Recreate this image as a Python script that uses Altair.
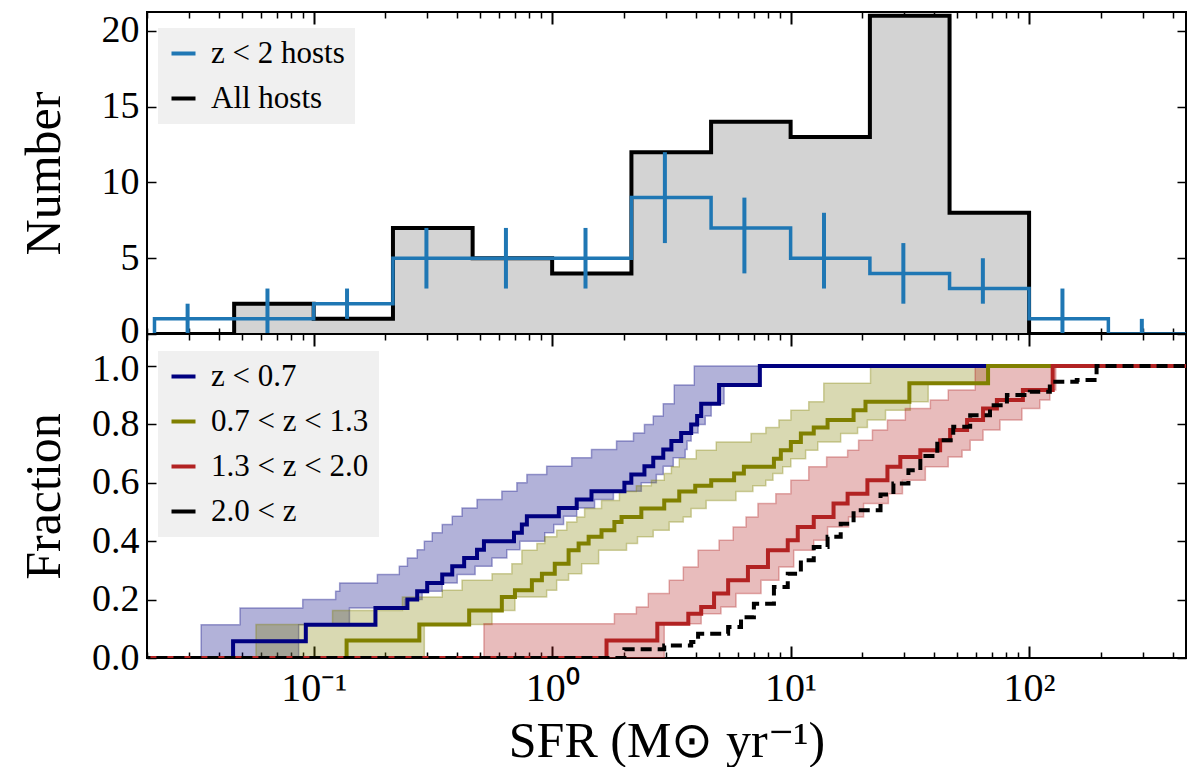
import altair as alt
import pandas as pd

W, HT, HB = 1039, 322, 324
FONT = "Liberation Serif"

# ---- top panel: host counts in 1/3-dex SFR bins ----
bin_edges = [0.0215, 0.0464, 0.1, 0.215, 0.464, 1.0, 2.15, 4.64, 10.0, 21.5, 46.4, 100.0, 215.0, 464.0]
all_counts = [0, 2, 1, 7, 5, 4, 12, 14, 13, 21, 8, 0, 0]
lowz_counts = [1, 1, 2, 5, 5, 5, 9, 7, 5, 4, 3, 1, 0]

err_sfr = [0.0296, 0.064, 0.138, 0.297, 0.64, 1.38, 2.97, 6.4, 13.8, 29.7, 64.0, 138.0, 297.0]
err_lo = [0, 0, 1, 3, 3, 3, 6, 4, 3, 2, 2, 0, 0]
err_hi = [2, 3, 3, 7, 7, 7, 12, 9, 8, 6, 5, 3, 1]

# ---- bottom panel: cumulative fractions, steps given as log10(SFR) ----
lev_z07 = [0.057, 0.114, 0.171, 0.200, 0.229, 0.257, 0.286, 0.314, 0.343, 0.371, 0.400, 0.429, 0.457,
           0.486, 0.514, 0.543, 0.571, 0.600, 0.629, 0.657, 0.686, 0.714, 0.743, 0.771, 0.800, 0.829,
           0.871, 0.935, 1.0]
step_z07 = [-1.338, -1.033, -0.741, -0.607, -0.566, -0.524, -0.461, -0.419, -0.369, -0.315, -0.286,
            -0.160, -0.127, -0.106, 0.028, 0.103, 0.165, 0.303, 0.332, 0.387, 0.424, 0.466, 0.500,
            0.541, 0.583, 0.608, 0.625, 0.700, 0.871]
band_l_z07 = [-1.472, -1.309, -1.046, -0.908, -0.891, -0.733, -0.641, -0.607, -0.566, -0.536, -0.503,
              -0.461, -0.419, -0.378, -0.315, -0.211, -0.148, -0.106, -0.023, 0.082, 0.165, 0.270,
              0.341, 0.387, 0.424, 0.466, 0.512, 0.596, 0.717]
band_r_z07 = [-1.063, -0.850, -0.616, -0.545, -0.461, -0.398, -0.323, -0.252, -0.190, -0.135, -0.031,
              0.007, 0.048, 0.103, 0.178, 0.257, 0.374, 0.437, 0.466, 0.508, 0.558, 0.566, 0.583,
              0.612, 0.642, 0.667, 0.721, 0.867, 0.938]

lev_z13 = [0.06, 0.115, 0.163, 0.209, 0.232, 0.266, 0.289, 0.323, 0.369, 0.392, 0.415, 0.438, 0.466,
           0.483, 0.512, 0.540, 0.570, 0.590, 0.609, 0.632, 0.655, 0.683, 0.712, 0.740, 0.769, 0.790,
           0.815, 0.849, 0.878, 0.941, 1.0]
step_z13 = [-0.862, -0.557, -0.348, -0.211, -0.156, -0.085, -0.043, 0.011, 0.069, 0.111, 0.153, 0.207,
            0.261, 0.291, 0.374, 0.470, 0.533, 0.600, 0.667, 0.763, 0.804, 0.930, 0.959, 1.001, 1.043,
            1.097, 1.155, 1.264, 1.314, 1.498, 1.828]
band_l_z13 = [-1.242, -0.921, -0.628, -0.461, -0.378, -0.252, -0.169, -0.127, -0.064, -0.031, 0.019,
              0.061, 0.103, 0.136, 0.207, 0.282, 0.353, 0.416, 0.470, 0.500, 0.533, 0.604, 0.688,
              0.834, 0.896, 0.951, 1.001, 1.076, 1.139, 1.335, 1.494]
band_r_z13 = [-0.536, -0.252, -0.156, -0.023, 0.019, 0.069, 0.124, 0.195, 0.312, 0.358, 0.424, 0.491,
              0.550, 0.583, 0.646, 0.771, 0.842, 0.896, 0.926, 0.967, 1.001, 1.063, 1.114, 1.210,
              1.281, 1.322, 1.398, 1.502, 1.577, 1.824, 1.949]

lev_z20 = [0.06, 0.117, 0.152, 0.175, 0.221, 0.266, 0.312, 0.369, 0.403, 0.449, 0.483, 0.529, 0.563,
           0.609, 0.655, 0.689, 0.712, 0.746, 0.781, 0.815, 0.855, 0.884, 0.918, 1.0]
step_z20 = [0.228, 0.441, 0.571, 0.625, 0.679, 0.738, 0.821, 0.905, 0.988, 1.030, 1.097, 1.180, 1.239,
            1.322, 1.406, 1.460, 1.544, 1.627, 1.669, 1.740, 1.807, 1.865, 1.974, 2.099]
band_l_z20 = [-0.286, 0.261, 0.353, 0.403, 0.491, 0.550, 0.612, 0.700, 0.759, 0.813, 0.863, 0.938,
              1.001, 1.076, 1.151, 1.239, 1.285, 1.343, 1.406, 1.481, 1.586, 1.661, 1.774, 1.949]
band_r_z20 = [0.470, 0.625, 0.708, 0.771, 0.876, 0.951, 1.013, 1.097, 1.155, 1.243, 1.306, 1.410,
              1.469, 1.565, 1.661, 1.719, 1.753, 1.807, 1.878, 1.970, 2.045, 2.087, 2.112, 2.350]

lev_hiz = [0.03, 0.043, 0.055, 0.083, 0.106, 0.14, 0.186, 0.243, 0.289, 0.335, 0.38, 0.415, 0.46,
           0.506, 0.56, 0.598, 0.643, 0.692, 0.746, 0.792, 0.832, 0.866, 0.901, 0.912, 0.946, 0.952, 1.0]
step_hiz = [0.303, 0.470, 0.583, 0.612, 0.738, 0.792, 0.846, 0.930, 0.988, 1.043, 1.097, 1.155, 1.210,
            1.264, 1.377, 1.431, 1.494, 1.544, 1.615, 1.682, 1.753, 1.836, 1.907, 2.003, 2.087, 2.200,
            2.283]

top_names = ["z < 2 hosts", "All hosts"]
top_colors = ["#1f77b4", "black"]
bot_names = ["z < 0.7", "0.7 < z < 1.3", "1.3 < z < 2.0", "2.0 < z"]
bot_colors = ["#000080", "#808000", "#b22222", "black"]


def hist_rows(counts, name, from_zero):
    xs = list(bin_edges)
    ys = counts + [0]
    if from_zero:
        xs = [bin_edges[0]] + xs
        ys = [0] + ys
    return pd.DataFrame({"sfr": xs, "n": ys, "series": name, "i": range(len(xs))})


def ecdf_rows(steps, levels, name):
    xs = [0.005] + [10 ** v for v in steps] + [5000.0]
    ys = [0.0] + levels + [1.0]
    return pd.DataFrame({"sfr": xs, "frac": ys, "series": name, "i": range(len(xs))})


def band_rows(levels, left, right):
    return pd.DataFrame({
        "frac": [0.0] + levels,
        "left": [10 ** left[0]] + [10 ** v for v in left],
        "right": [10 ** right[0]] + [10 ** v for v in right],
    })


xscale = alt.Scale(type="log", domain=[0.02, 455], nice=False)
ytop = alt.Scale(domain=[0, 21.25], nice=False)
ybot = alt.Scale(domain=[0, 1.11], nice=False)

major = [0.1, 1, 10, 100]
minor = [round(m * 10.0 ** e, 6) for e in range(-2, 3) for m in range(2, 10)]
minor = [v for v in minor if 0.02 <= v <= 455]
ytop_vals = [0, 5, 10, 15, 20]
ybot_vals = [0, 0.2, 0.4, 0.6, 0.8, 1.0]


def inward(orient, values, size, offset, width=1.5):
    return alt.Axis(orient=orient, offset=offset, values=values, labels=False, tickSize=size,
                    tickWidth=width, tickColor="black", domain=False, grid=False, title=None)


def label_axis(values, title, nudge, fmt=None):
    kw = dict(orient="left", values=values, ticks=False, tickSize=0, domain=False, grid=False,
              labelFont=FONT, labelFontSize=38, labelColor="black", labelPadding=8,
              labelOverlap=False, labelOffset=nudge,
              title=title, titleFont=FONT, titleFontSize=50,
              titleFontWeight="normal", titleColor="black", titlePadding=12,
              minExtent=66, maxExtent=66)
    if fmt:
        kw["format"] = fmt
    return alt.Axis(**kw)


def legend(dy):
    return alt.Legend(orient="none", legendX=11, legendY=dy, title=None, fillColor="#f0f0f0",
                      padding=10, symbolType="stroke", symbolStrokeWidth=4, symbolSize=576,
                      labelFont=FONT, labelFontSize=31, labelColor="black", labelOffset=12,
                      rowPadding=13, labelLimit=500)


# ---- top panel ----
all_df = hist_rows(all_counts, "All hosts", False)
lowz_df = hist_rows(lowz_counts, "z < 2 hosts", True)
err_df = pd.DataFrame({"sfr": err_sfr, "lo": err_lo, "hi": err_hi})
tcolor = alt.Scale(domain=top_names, range=top_colors)

top_nudge = {"condition": {"test": "datum.value === 0", "value": -3}, "value": 0}
gray = alt.Chart(all_df).mark_area(interpolate="step-after", color="#d3d3d3", clip=True).encode(
    x=alt.X("sfr:Q", scale=xscale, axis=inward("top", major, 12, -HT, 2)),
    y=alt.Y("n:Q", scale=ytop, axis=label_axis(ytop_vals, "Number", top_nudge)),
)
black_hist = alt.Chart(all_df).mark_line(interpolate="step-after", strokeWidth=4, clip=True).encode(
    x=alt.X("sfr:Q", scale=xscale, axis=inward("top", minor, 6, -HT)),
    y=alt.Y("n:Q", scale=ytop, axis=inward("right", ytop_vals, 9, -W)),
    color=alt.Color("series:N", scale=tcolor, legend=legend(16)),
    order="i:Q",
)
blue_hist = alt.Chart(lowz_df).mark_line(interpolate="step-after", strokeWidth=3.5, clip=True).encode(
    x=alt.X("sfr:Q", scale=xscale, axis=inward("bottom", major, 12, -HT, 2)),
    y=alt.Y("n:Q", scale=ytop, axis=inward("left", ytop_vals, 9, -W)),
    color=alt.Color("series:N", scale=tcolor, legend=legend(16)),
    order="i:Q",
)
bars = alt.Chart(err_df).mark_rule(strokeWidth=4, color="#1f77b4", clip=True).encode(
    x=alt.X("sfr:Q", scale=xscale, axis=inward("bottom", minor, 6, -HT)),
    y=alt.Y("lo:Q", scale=ytop, axis=None),
    y2="hi:Q",
)
top = alt.layer(gray, black_hist, blue_hist, bars).resolve_axis(
    x="independent", y="independent"
).properties(width=W, height=HT)

# ---- bottom panel ----
bcolor = alt.Scale(domain=bot_names, range=bot_colors)
bot_nudge = {"condition": {"test": "datum.value === 1", "value": 3}, "value": 0}
bands = [
    (band_rows(lev_z07, band_l_z07, band_r_z07), bot_colors[0]),
    (band_rows(lev_z13, band_l_z13, band_r_z13), bot_colors[1]),
    (band_rows(lev_z20, band_l_z20, band_r_z20), bot_colors[2]),
]
band_axes = [
    (inward("top", major, 12, -HB, 2), label_axis(ybot_vals, "Fraction", bot_nudge, ".1f")),
    (inward("top", minor, 6, -HB), inward("right", ybot_vals, 9, -W)),
    (inward("bottom", major, 12, -HB, 2), inward("left", ybot_vals, 9, -W)),
]
layers = []
for (df, col), (xa, ya) in zip(bands, band_axes):
    layers.append(
        alt.Chart(df).mark_area(orient="horizontal", interpolate="step-after", fill=col,
                                fillOpacity=0.3, stroke=col, strokeOpacity=0.35, strokeWidth=1.5,
                                clip=True).encode(
            x=alt.X("left:Q", scale=xscale, axis=xa),
            x2="right:Q",
            y=alt.Y("frac:Q", scale=ybot, axis=ya),
        )
    )

x_labels = alt.Axis(orient="bottom", values=major, ticks=False, tickSize=0, domain=False, grid=False,
                    labelExpr="datum.value < 0.5 ? '10⁻¹' : datum.value < 5 ? '10⁰' : "
                              "datum.value < 50 ? '10¹' : '10²'",
                    labelFont=FONT, labelFontSize=40, labelColor="black", labelPadding=10,
                    labelFlush=False, labelOverlap=False, title="SFR (M⊙ yr⁻¹)", titleFont=FONT,
                    titleFontSize=50, titleFontWeight="normal", titleColor="black", titlePadding=8)
line_axes = [inward("bottom", minor, 6, -HB), x_labels, None, None]
ecdfs = [
    ecdf_rows(step_z07, lev_z07, bot_names[0]),
    ecdf_rows(step_z13, lev_z13, bot_names[1]),
    ecdf_rows(step_z20, lev_z20, bot_names[2]),
    ecdf_rows(step_hiz, lev_hiz, bot_names[3]),
]
for k, (df, xa) in enumerate(zip(ecdfs, line_axes)):
    mark = dict(interpolate="step-after", strokeWidth=4, clip=True)
    if k == 3:
        mark["strokeDash"] = [11, 6]
    layers.append(
        alt.Chart(df).mark_line(**mark).encode(
            x=alt.X("sfr:Q", scale=xscale, axis=xa),
            y=alt.Y("frac:Q", scale=ybot, axis=None),
            color=alt.Color("series:N", scale=bcolor, legend=legend(17)),
            order="i:Q",
        )
    )

bottom = alt.layer(*layers).resolve_axis(x="independent", y="independent").properties(width=W, height=HB)

chart = alt.vconcat(top, bottom, spacing=0, bounds="flush").resolve_scale(
    color="independent", x="independent", y="independent"
).properties(
    padding={"left": 10, "top": 2, "right": 4, "bottom": 0}
).configure(font=FONT).configure_view(stroke="black", strokeWidth=2)

chart.save("out.html", embed_options={"renderer": "svg", "actions": False})
